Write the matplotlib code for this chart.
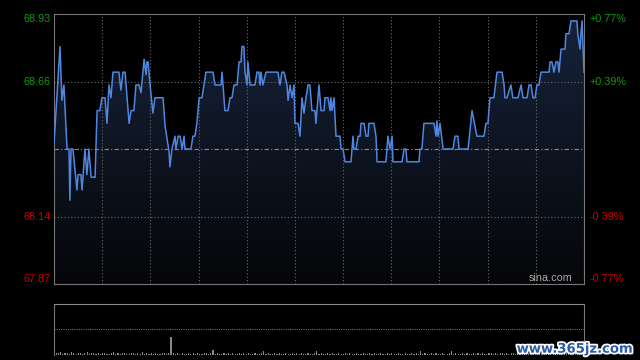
import numpy as np
import matplotlib
matplotlib.use("Agg")
import matplotlib.pyplot as plt
from matplotlib import patheffects
from matplotlib.colors import LinearSegmentedColormap

prev_close = 68.40
half_range = 0.527

# 分时价格 (minute, price)
minutes = [0.0, 2.7, 3.6, 4.5, 5.9, 6.8, 7.2, 7.7, 8.6, 10.4, 10.9, 12.2, 12.7, 14.0, 14.9, 15.8,
           16.8, 18.6, 19.5, 20.8, 21.7, 23.1, 24.0, 24.9, 25.8, 26.7, 29.4, 30.3, 31.2, 32.2,
           33.1, 34.0, 34.9, 36.2, 37.1, 38.5, 39.4, 40.8, 41.7, 42.1, 42.6, 43.5, 44.8, 45.7,
           49.4, 50.3, 52.1, 52.5, 53.4, 54.8, 55.2, 56.2, 57.1, 58.0, 58.9, 59.3, 62.0, 62.9,
           63.8, 64.7, 65.7, 67.0, 67.9, 68.8, 72.0, 72.9, 75.6, 76.1, 77.4, 78.8, 79.7, 80.6,
           81.5, 82.9, 83.8, 84.7, 85.1, 86.0, 86.5, 87.4, 87.8, 88.8, 91.0, 91.9, 92.8, 93.3,
           93.7, 94.6, 96.0, 101.4, 102.3, 103.2, 104.2, 105.5, 106.0, 106.9, 107.8, 108.7,
           109.1, 110.5, 111.4, 112.3, 113.2, 114.1, 115.0, 115.9, 116.8, 118.2, 118.6, 119.5,
           120.0, 120.9, 122.3, 122.7, 124.1, 125.0, 125.4, 125.9, 126.8, 127.7, 129.5, 130.0,
           130.9, 131.8, 134.5, 135.4, 135.8, 136.8, 137.7, 138.6, 139.0, 140.4, 141.3, 142.2,
           142.6, 144.9, 145.8, 146.3, 150.3, 151.2, 152.2, 153.1, 153.5, 157.6, 158.5, 159.4,
           159.8, 165.3, 165.7, 166.6, 167.5, 172.1, 173.0, 173.4, 173.9, 174.8, 176.2, 180.7,
           181.6, 182.9, 183.4, 187.5, 189.3, 191.5, 194.7, 195.6, 196.5, 197.4, 199.2, 200.6,
           202.9, 203.8, 204.2, 205.1, 206.9, 207.8, 210.1, 211.5, 212.4, 214.2, 215.1, 216.0,
           216.9, 217.8, 218.7, 219.6, 220.5, 224.2, 224.6, 225.5, 226.4, 227.3, 228.2, 228.7,
           229.6, 231.4, 231.8, 233.2, 234.1, 236.8, 237.2, 238.2, 238.6, 239.1, 240.0]
prices = [68.42, 68.80, 68.59, 68.65, 68.40, 68.40, 68.20, 68.40, 68.40, 68.24, 68.30, 68.30, 68.24, 68.40, 68.30, 68.40,
          68.29, 68.29, 68.55, 68.55, 68.60, 68.60, 68.50, 68.65, 68.60, 68.70, 68.70, 68.63, 68.70, 68.70,
          68.60, 68.50, 68.55, 68.55, 68.65, 68.65, 68.62, 68.75, 68.69, 68.74, 68.74, 68.65, 68.54, 68.60,
          68.60, 68.49, 68.39, 68.33, 68.40, 68.45, 68.40, 68.45, 68.45, 68.40, 68.45, 68.40, 68.40, 68.45,
          68.45, 68.50, 68.60, 68.60, 68.65, 68.70, 68.70, 68.65, 68.65, 68.70, 68.55, 68.55, 68.60, 68.60,
          68.65, 68.65, 68.74, 68.74, 68.80, 68.80, 68.70, 68.65, 68.74, 68.65, 68.65, 68.70, 68.70, 68.65,
          68.70, 68.65, 68.70, 68.70, 68.65, 68.70, 68.70, 68.65, 68.59, 68.65, 68.60, 68.65,
          68.50, 68.50, 68.45, 68.60, 68.54, 68.60, 68.65, 68.65, 68.55, 68.55, 68.50, 68.60,
          68.65, 68.55, 68.55, 68.60, 68.60, 68.55, 68.60, 68.55, 68.60, 68.45, 68.45, 68.40,
          68.40, 68.35, 68.35, 68.45, 68.40, 68.40, 68.45, 68.45, 68.50, 68.50, 68.45, 68.45,
          68.50, 68.50, 68.45, 68.35, 68.35, 68.45, 68.40, 68.45, 68.35, 68.35, 68.40, 68.40,
          68.35, 68.35, 68.40, 68.40, 68.50, 68.50, 68.45, 68.51, 68.45, 68.50, 68.40, 68.40,
          68.45, 68.45, 68.40, 68.40, 68.55, 68.45, 68.45, 68.50, 68.50, 68.60, 68.60, 68.70,
          68.70, 68.65, 68.60, 68.60, 68.65, 68.60, 68.60, 68.65, 68.60, 68.60, 68.65, 68.65,
          68.60, 68.60, 68.65, 68.65, 68.70, 68.70, 68.74, 68.74, 68.70, 68.74, 68.74, 68.70,
          68.79, 68.79, 68.85, 68.85, 68.90, 68.90, 68.85, 68.79, 68.85, 68.90, 68.70]

# 成交量 (per minute, 0..240)
volume = [6, 4, 3, 5, 2, 4, 3, 2, 5, 3, 2, 4, 3, 2, 3, 5, 2, 3, 4, 2,
          3, 2, 4, 3, 2, 2, 3, 5, 2, 3, 2, 4, 3, 2, 2, 3, 4, 2, 3, 2,
          5, 2, 3, 2, 4, 2, 3, 2, 2, 4, 3, 2, 3, 35, 3, 2, 4, 2, 3, 2,
          2, 3, 2, 4, 2, 3, 2, 2, 3, 4, 2, 3, 10, 2, 3, 2, 2, 3, 2, 4,
          2, 3, 2, 2, 3, 2, 4, 2, 3, 2, 2, 3, 2, 2, 3, 8, 2, 3, 2, 2,
          3, 2, 4, 2, 2, 3, 2, 2, 3, 2, 4, 2, 3, 2, 2, 3, 2, 2, 3, 8,
          2, 3, 2, 2, 4, 2, 3, 2, 2, 3, 2, 2, 3, 2, 4, 2, 2, 3, 2, 2,
          3, 2, 2, 4, 2, 3, 2, 2, 3, 2, 2, 3, 2, 4, 2, 2, 3, 2, 2, 3,
          2, 2, 4, 2, 3, 2, 8, 2, 3, 2, 2, 3, 2, 4, 2, 2, 3, 2, 2, 3,
          8, 2, 3, 2, 2, 4, 2, 3, 2, 2, 3, 2, 4, 2, 3, 2, 2, 3, 4, 2,
          3, 2, 4, 3, 2, 3, 2, 4, 3, 2, 3, 4, 2, 3, 2, 4, 3, 2, 3, 4,
          2, 3, 4, 2, 3, 5, 2, 3, 4, 3, 2, 4, 3, 2, 5, 3, 4, 2, 3, 5,
          6]

lo = prev_close - half_range
hi = prev_close + half_range

fig = plt.figure(figsize=(6.4, 3.6), dpi=100, facecolor="black")
ax = fig.add_axes([54 / 640, 76 / 360, 530 / 640, 270 / 360])
ax.set_facecolor("black")
ax.set_xlim(0, 240)
ax.set_ylim(lo, hi)

# 渐变填充
cmap = LinearSegmentedColormap.from_list("fill", ["#050608", "#17233b"])
grad = np.linspace(0, 1, 256).reshape(-1, 1)
im = ax.imshow(grad, extent=[0, 240, lo, hi], aspect="auto", cmap=cmap, origin="lower", zorder=1)
poly = ax.fill_between(minutes, prices, lo, color="none", lw=0)
im.set_clip_path(poly.get_paths()[0], transform=ax.transData)

# grid
for i in range(1, 11):
    ax.axvline(240 * i / 11, color="#6a6a6a", lw=0.8, ls=(0, (1, 2)), zorder=2)
for v in [prev_close + half_range / 2, prev_close - half_range / 2]:
    ax.axhline(v, color="#6a6a6a", lw=0.8, ls=(0, (1, 2)), zorder=2)
ax.axhline(prev_close, color="#8a8a8a", lw=0.8, ls=(0, (4, 2, 1, 2)), zorder=2)

ax.plot(minutes, prices, color="#4f87e0", lw=1.1, zorder=3)

for s in ax.spines.values():
    s.set_color("#777777")
ax.set_xticks([])
ax.set_yticks([])

font = "Liberation Sans"
green = "#0b9a0b"
red = "#cc0000"
tr = ax.get_yaxis_transform()
levels = [hi, prev_close + half_range / 2, prev_close - half_range / 2, lo]
pcts = ["+0.77%", "+0.39%", "-0.39%", "-0.77%"]
vas = ["top", "center", "center", "bottom"]
for v, p, va in zip(levels, pcts, vas):
    c = green if v > prev_close else red
    ax.text(-0.006, v, "%.2f" % v, transform=tr, ha="right", va=va, color=c,
            fontsize=7.8, family=font)
    ax.text(1.01, v, p, transform=tr, ha="left", va=va, color=c,
            fontsize=7.8, family=font)

ax.text(0.979, 0.005, "sina.com", transform=ax.transAxes, ha="right", va="bottom",
        color="#aaaaaa", fontsize=7.8, family=font, zorder=4)

# volume panel
vax = fig.add_axes([54 / 640, 5 / 360, 530 / 640, 51 / 360])
vax.set_facecolor("black")
vax.bar(np.arange(len(volume)), volume, width=0.5, color="#8a8a8a", lw=0)
vax.set_xlim(0, 240)
vax.set_ylim(0, 100)
vax.axhline(51, color="#6a6a6a", lw=0.8, ls=(0, (1, 1)))
vax.spines["bottom"].set_visible(False)
vax.spines["top"].set_color("#8a8a8a")
vax.spines["top"].set_linestyle((0, (1, 1)))
vax.spines["left"].set_color("#777777")
vax.spines["right"].set_color("#777777")
vax.set_xticks([])
vax.set_yticks([])

fig.text(0.99, 0.012, "www.365jz.com", ha="right", va="bottom", color="#2a5aa8",
         fontsize=9.5, fontweight="bold",
         path_effects=[patheffects.withStroke(linewidth=2.5, foreground="white")])

fig.savefig("out.png", facecolor="black")
